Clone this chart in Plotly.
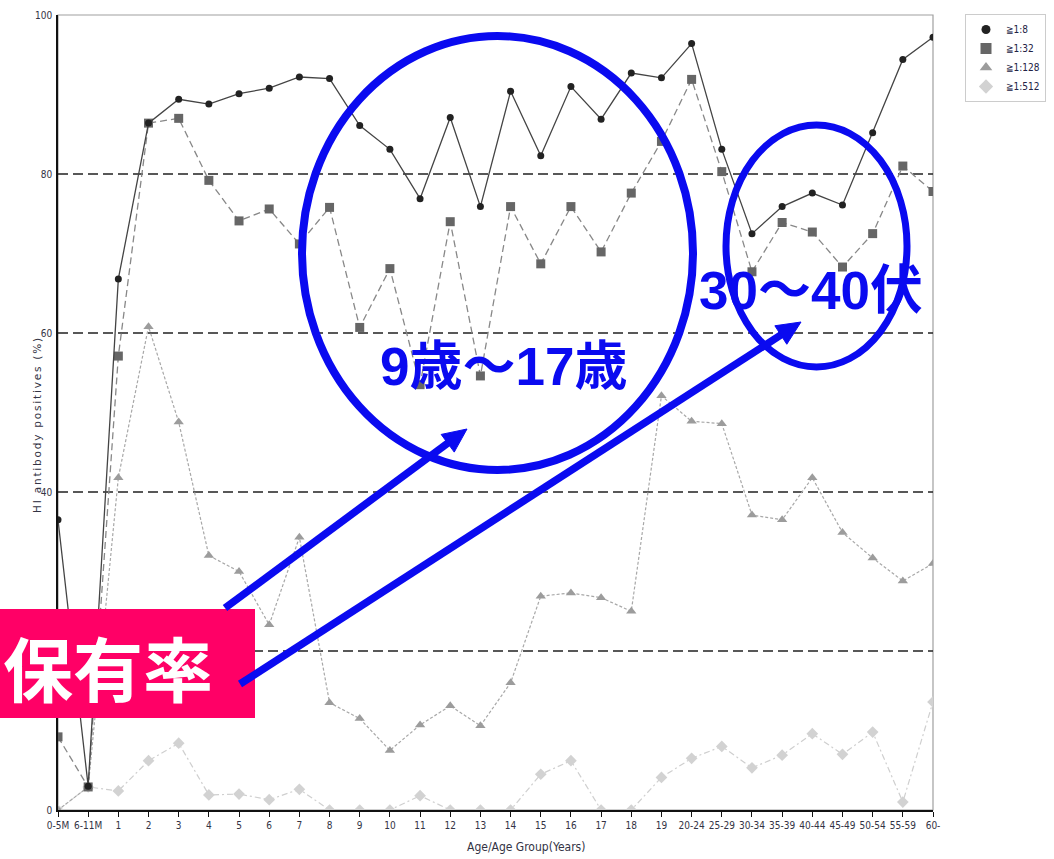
import math
import plotly.graph_objects as go

# Age groups on the x axis
age_groups = ["0-5M", "6-11M"] + [str(a) for a in range(1, 20)] + [
    "20-24", "25-29", "30-34", "35-39", "40-44", "45-49", "50-54", "55-59", "60-"]

# HI antibody positive rate (%) per titre threshold
pos_8 = [36.5, 3.0, 66.8, 86.4, 89.4, 88.8, 90.1, 90.8, 92.2, 92.0, 86.1, 83.1, 76.9,
         87.1, 75.9, 90.4, 82.3, 91.0, 86.9, 92.7, 92.1, 96.4, 83.1, 72.5, 75.9, 77.6,
         76.1, 85.2, 94.4, 97.2]
pos_32 = [9.2, 2.9, 57.1, 86.4, 87.0, 79.2, 74.1, 75.6, 71.2, 75.8, 60.7, 68.1, 53.5,
          74.0, 54.6, 75.9, 68.7, 75.9, 70.2, 77.6, 84.1, 91.9, 80.3, 67.7, 73.9, 72.7,
          68.3, 72.5, 81.0, 77.8]
pos_128 = [0.0, 2.9, 41.8, 60.8, 48.8, 32.0, 30.0, 23.3, 34.3, 13.5, 11.5, 7.5, 10.7,
           13.1, 10.6, 16.0, 26.9, 27.3, 26.7, 25.0, 52.1, 48.9, 48.6, 37.1, 36.5, 41.8,
           34.9, 31.7, 28.8, 31.0]
pos_512 = [0.0, 2.9, 2.4, 6.2, 8.4, 1.9, 2.0, 1.3, 2.6, 0.0, 0.0, 0.0, 1.8, 0.0, 0.0,
           0.0, 4.5, 6.2, 0.0, 0.0, 4.1, 6.5, 8.0, 5.3, 6.9, 9.6, 7.0, 9.8, 1.0, 13.6]

y_ticks = [0, 20, 40, 60, 80, 100]
y_ticktext = ["0", "", "40", "60", "80", "100"]  # the 20 label sits under the pink label box
grid_levels = [20, 40, 60, 80]

W, H = 1054, 859
L, R, T, B = 58, 933, 15, 810


def px(x):
    return (x - L) / (R - L)


def py(y):
    return (B - y) / (B - T)


xs = list(range(len(age_groups)))
NARROW = "Liberation Sans Narrow, DejaVu Sans Condensed, Arial Narrow, DejaVu Sans, sans-serif"
tick_font = dict(family=NARROW, size=10, color="#333344")

series = [
    ("≧1:512", pos_512, "diamond", 9, "#d2d2d2", "#cfcfcf", "6px,3px,2px,3px", 1.2),
    ("≧1:128", pos_128, "triangle-up", 9, "#9c9c9c", "#a8a8a8", "3px,2px", 1.2),
    ("≧1:32", pos_32, "square", 9, "#666666", "#888888", "7px,4px", 1.3),
    ("≧1:8", pos_8, "circle", 7, "#222222", "#444444", "solid", 1.3),
]

fig = go.Figure()
for name, vals, sym, size, mcol, lcol, dash, lw in series:
    fig.add_trace(go.Scatter(
        x=xs, y=vals, mode="lines+markers", name=name, showlegend=False,
        line=dict(color=lcol, width=lw, dash=dash),
        marker=dict(symbol=sym, size=size, color=mcol),
        hoverinfo="skip"))

# marker-only legend entries, listed from the lowest titre threshold down
for name, vals, sym, size, mcol, lcol, dash, lw in reversed(series):
    fig.add_trace(go.Scatter(
        x=[None], y=[None], mode="markers", name=name,
        marker=dict(symbol=sym, size=size + 2, color=mcol)))

shapes = []
# frame: light top/right border
shapes.append(dict(type="rect", xref="paper", yref="paper", x0=0, x1=1, y0=0, y1=1,
                   line=dict(color="#a0a0a0", width=1.2), layer="below"))
# dashed horizontal reference lines
for g in grid_levels:
    shapes.append(dict(type="line", xref="paper", yref="y", x0=0, x1=1, y0=g, y1=g,
                       line=dict(color="#222222", width=1.6, dash="10px,5px"), layer="below"))

BLUE = "#0a0af0"
# highlight ellipses
shapes.append(dict(type="circle", xref="paper", yref="paper",
                   x0=px(302), x1=px(693), y0=py(470), y1=py(36),
                   line=dict(color=BLUE, width=8)))
shapes.append(dict(type="circle", xref="paper", yref="paper",
                   x0=px(726), x1=px(907), y0=py(367), y1=py(125),
                   line=dict(color=BLUE, width=7)))

# pink label box
shapes.append(dict(type="rect", xref="paper", yref="paper",
                   x0=px(0), x1=px(255), y0=py(718), y1=py(609),
                   fillcolor="#ff0066", line=dict(width=0)))


def arrow(tail, head, width=7.5, hl=24, hw=22):
    tx, ty = tail
    hx, hy = head
    d = math.hypot(hx - tx, hy - ty)
    ux, uy = (hx - tx) / d, (hy - ty) / d
    bx, by = hx - ux * hl, hy - uy * hl
    nx, ny = -uy, ux
    out = [dict(type="line", xref="paper", yref="paper",
                x0=px(tx), y0=py(ty), x1=px(bx + ux * 2), y1=py(by + uy * 2),
                line=dict(color=BLUE, width=width))]
    p1 = (bx + nx * hw / 2, by + ny * hw / 2)
    p2 = (bx - nx * hw / 2, by - ny * hw / 2)
    path = "M {} {} L {} {} L {} {} Z".format(px(hx), py(hy), px(p1[0]), py(p1[1]),
                                              px(p2[0]), py(p2[1]))
    out.append(dict(type="path", xref="paper", yref="paper", path=path,
                    fillcolor=BLUE, line=dict(color=BLUE, width=1)))
    return out


shapes += arrow((225, 608), (467, 429))
shapes += arrow((240, 684), (801, 322))


def note(text, x, y, font, angle=0):
    return dict(text=text, xref="paper", yref="paper", x=px(x), y=py(y),
                xanchor="center", yanchor="middle", showarrow=False,
                textangle=angle, font=font)


annotations = [
    note('<span style="letter-spacing:1.8px">HI antibody positives (%)</span>', 37, 425,
         dict(family="DejaVu Sans, sans-serif", size=10.5, color="#333344"), angle=-90),
    note("Age/Age Group(Years)", 526, 847, dict(family=NARROW, size=12, color="#333344")),
    note("<b>9歳～17歳</b>", 504, 366,
         dict(family="Liberation Sans, Noto Sans CJK JP, sans-serif", size=53, color=BLUE)),
    note("<b>30～40伏</b>", 811, 290,
         dict(family="Liberation Sans, Noto Sans CJK JP, sans-serif", size=53, color=BLUE)),
    note("<b>保有率</b>", 108, 666,
         dict(family="Noto Sans CJK JP, sans-serif", size=70, color="white")),
]

fig.update_layout(
    width=W, height=H,
    margin=dict(l=L, r=W - R, t=T, b=H - B, autoexpand=False),
    plot_bgcolor="white", paper_bgcolor="white",
    shapes=shapes, annotations=annotations,
    legend=dict(x=px(965), y=py(14), xanchor="left", yanchor="top",
                bordercolor="#cccccc", borderwidth=1, bgcolor="white",
                font=dict(family=NARROW, size=10, color="#222244"),
                itemwidth=30, tracegroupgap=0),
    xaxis=dict(range=[0, len(age_groups) - 1], tickvals=xs, ticktext=age_groups,
               showgrid=False, zeroline=False, showline=True, linecolor="#111111",
               linewidth=2, ticks="outside", ticklen=5, tickcolor="#111111",
               tickfont=tick_font, tickangle=0),
    yaxis=dict(range=[0, 100], tickvals=y_ticks, ticktext=y_ticktext, showgrid=False,
               zeroline=False, showline=True, linecolor="#111111", linewidth=1.5,
               ticks="", tickfont=tick_font, ticklabelstandoff=2),
)

fig.write_html("out.html")
